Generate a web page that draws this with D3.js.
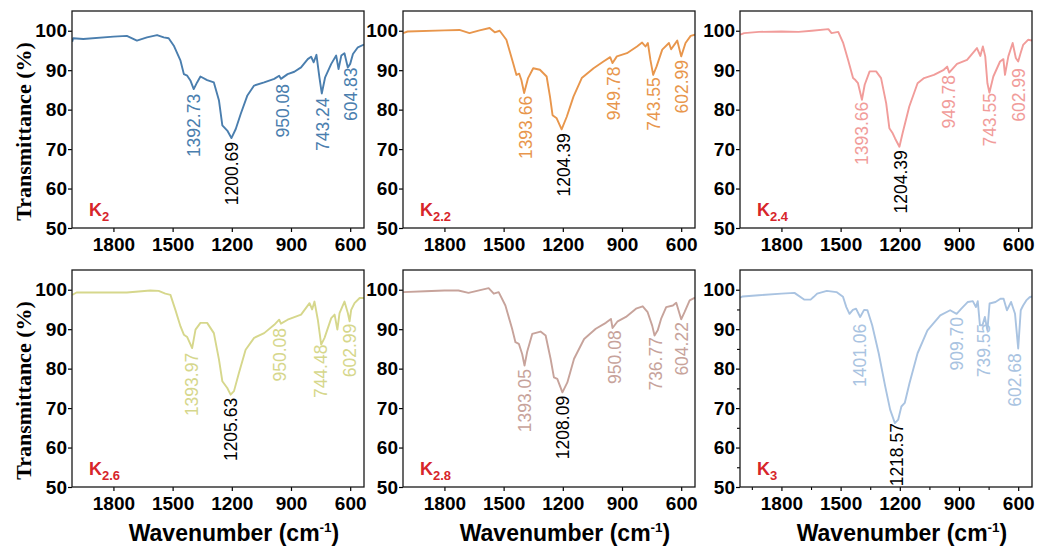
<!DOCTYPE html>
<html>
<head>
<meta charset="utf-8">
<script src="https://cdn.jsdelivr.net/npm/d3@7"></script>
<style>
  html, body { margin: 0; padding: 0; background: #ffffff; }
  svg { display: block; }
</style>
</head>
<body>
<svg id="chart" width="1040" height="549"></svg>
<script>
// ---------------- data ----------------
const wavenumberTicks = [1800, 1500, 1200, 900, 600];
const transmittanceTicks = [50, 60, 70, 80, 90, 100];
const wavenumberMinorTicks = [1950, 1650, 1350, 1050, 750];
const transmittanceMinorTicks = [55, 65, 75, 85, 95];

const sampleNames = ["2", "2.2", "2.4", "2.6", "2.8", "3"];
const sampleColors = ["#4a7eae", "#e8964c", "#f19c9a", "#d6d78c", "#c7a39b", "#a9c3e1"];

// K2
const k2Wave  = [2009,2004,1953,1800,1732,1681,1630,1579,1545,1520,1494,1460,1443,1426,1410,1393,1376,1359,1325,1291,1265,1248,1223,1202,1180,1155,1121,1087,1036,985,960,951,917,883,849,815,798,785,771,756,744,727,696,671,659,645,629,612,600,586,561,530];
const k2Trans = [97.2,98.1,97.9,98.5,98.7,97.5,98.3,98.9,98.3,98.1,96.2,92.4,89.0,88.6,87.4,85.2,86.9,88.4,87.5,86.9,82.3,76.0,74.7,72.8,75.1,78.9,83.6,86.1,86.9,87.8,88.6,87.8,89.0,89.6,90.7,92.8,93.4,92.0,93.9,88.2,84.1,88.2,91.6,93.7,90.3,93.7,94.3,90.7,91.6,94.1,95.8,96.5];
const k2PeakText = ["1392.73", "1200.69", "950.08", "743.24", "604.83"];
const k2PeakWave = [1393, 1202, 943, 739, 595];
const k2PeakTop  = [84.0, 71.8, 86.5, 83.1, 90.7];

// K2.2
const k22Wave  = [2009,1987,1800,1724,1673,1622,1571,1545,1520,1486,1452,1435,1421,1410,1396,1376,1350,1316,1282,1265,1252,1231,1206,1180,1146,1104,1044,994,960,948,926,875,824,798,781,769,756,742,725,696,662,651,620,600,578,552,530];
const k22Trans = [99.4,99.8,100.1,100.2,99.4,100.1,100.7,99.6,100.0,97.7,91.8,88.8,89.1,87.5,84.2,88.0,90.5,90.1,88.4,83.3,78.6,77.8,75.0,78.2,83.3,88.0,90.5,92.2,93.3,91.8,93.5,94.3,96.0,97.0,96.0,96.9,92.6,88.8,90.9,95.2,96.9,95.3,97.5,93.5,96.9,98.7,99.0];
const k22PeakText = ["1393.66", "1204.39", "949.78", "743.55", "602.99"];
const k22PeakWave = [1389, 1197, 943, 739, 595];
const k22PeakTop  = [83.5, 74.0, 90.9, 88.2, 92.6];

// K2.4
const k24Wave  = [2009,1989,1914,1800,1713,1646,1562,1546,1512,1487,1462,1437,1425,1412,1392,1378,1353,1320,1295,1269,1253,1236,1224,1202,1186,1152,1110,1077,1027,977,960,950,910,859,809,792,779,767,756,746,726,692,675,667,650,628,612,600,588,575,550,530];
const k24Trans = [99.0,99.4,99.7,99.8,99.7,100.0,100.4,99.4,99.7,96.9,92.6,88.0,87.5,86.7,82.5,86.3,89.7,89.7,88.0,81.6,75.3,74.0,72.7,70.6,74.0,80.8,86.7,88.0,88.8,90.1,90.9,89.4,91.6,92.6,95.6,93.6,96.0,93.5,86.7,84.3,88.4,92.2,92.8,88.8,93.5,96.9,93.1,92.2,94.3,96.4,97.7,97.5];
const k24PeakText = ["1393.66", "1204.39", "949.78", "743.55", "602.99"];
const k24PeakWave = [1392, 1197, 950, 746, 600];
const k24PeakTop  = [82.0, 69.7, 88.8, 84.2, 90.5];

// K2.6
const k26Wave  = [2009,1987,1800,1732,1613,1571,1537,1511,1486,1460,1443,1426,1401,1384,1359,1325,1291,1265,1248,1223,1206,1189,1164,1130,1087,1036,985,960,951,917,849,806,793,781,764,747,730,696,679,665,654,629,612,603,595,578,552,530];
const k26Trans = [98.7,99.3,99.3,99.3,99.8,99.7,99.0,98.7,94.9,90.7,88.6,88.0,85.2,89.9,91.6,91.6,89.0,82.3,76.8,75.1,73.4,74.3,78.9,84.8,87.8,89.0,91.1,92.4,91.4,92.4,93.7,96.6,95.0,97.0,92.4,86.1,87.8,92.8,93.7,89.9,94.1,97.0,94.1,92.0,94.9,96.6,97.9,97.9];
const k26PeakText = ["1393.97", "1205.63", "950.08", "744.48", "602.99"];
const k26PeakWave = [1401, 1206, 955, 747, 603];
const k26PeakTop  = [84.0, 72.6, 90.3, 86.1, 91.4];

// K2.8
const k28Wave  = [2009,1898,1800,1729,1678,1576,1550,1525,1491,1457,1440,1423,1406,1394,1381,1355,1313,1287,1262,1245,1228,1202,1177,1143,1092,1033,982,956,948,922,880,829,795,770,747,735,719,702,676,642,625,600,583,557,530];
const k28Trans = [99.4,99.6,99.8,99.8,99.2,100.4,99.0,99.4,96.0,90.1,86.7,86.3,83.7,80.8,84.2,88.8,89.4,88.4,82.5,77.8,77.4,74.0,76.5,82.5,87.5,90.1,91.6,92.6,90.3,92.0,93.1,95.2,95.8,94.3,90.9,88.4,89.7,92.6,95.6,96.0,96.7,92.5,94.3,97.3,98.0];
const k28PeakText = ["1393.05", "1208.09", "950.08", "736.77", "604.22"];
const k28PeakWave = [1394, 1199, 939, 730, 600];
const k28PeakTop  = [79.9, 73.1, 89.7, 88.0, 91.8];

// K3
const k3Wave  = [2009,1997,1915,1800,1734,1685,1652,1636,1619,1570,1521,1488,1471,1455,1438,1422,1401,1381,1364,1340,1307,1274,1249,1225,1208,1192,1175,1151,1110,1060,995,945,912,888,855,830,814,805,794,781,769,756,745,715,690,674,657,636,616,600,587,575,559,542,530];
const k3Trans = [98.0,98.3,98.6,99.0,99.2,97.5,97.5,98.2,99.0,99.7,99.4,98.2,95.6,93.9,94.9,95.2,93.1,94.9,94.8,91.0,83.9,75.5,69.6,66.2,67.1,70.4,71.3,76.3,83.9,89.7,93.5,94.8,93.9,95.2,96.9,97.1,95.6,97.1,91.0,91.0,93.1,89.7,96.5,96.9,97.7,97.7,94.8,96.9,93.9,85.1,94.8,96.0,97.3,98.1,98.3];
const k3PeakText = ["1401.06", "1218.57", "909.70", "739.55", "602.68"];
const k3PeakWave = [1405, 1216, 912, 776, 620];
const k3PeakTop  = [91.4, 66.2, 93.1, 91.4, 83.9];

const mainPeakIndex = 1; // second label of each panel printed in black

// ---------------- build ----------------
const panels = [
  { wave: k2Wave,  trans: k2Trans,  text: k2PeakText,  pw: k2PeakWave,  pt: k2PeakTop },
  { wave: k22Wave, trans: k22Trans, text: k22PeakText, pw: k22PeakWave, pt: k22PeakTop },
  { wave: k24Wave, trans: k24Trans, text: k24PeakText, pw: k24PeakWave, pt: k24PeakTop },
  { wave: k26Wave, trans: k26Trans, text: k26PeakText, pw: k26PeakWave, pt: k26PeakTop },
  { wave: k28Wave, trans: k28Trans, text: k28PeakText, pw: k28PeakWave, pt: k28PeakTop },
  { wave: k3Wave,  trans: k3Trans,  text: k3PeakText,  pw: k3PeakWave,  pt: k3PeakTop }
];

const colLeft = [72, 403, 740];
const rowTop = [11, 270];
const pWidth = 292, pHeight = 217;

const svg = d3.select("#chart");
const sans = "'Liberation Sans', Arial, sans-serif";

panels.forEach((p, i) => {
  const col = i % 3, row = Math.floor(i / 3);
  const g = svg.append("g").attr("transform", `translate(${colLeft[col]},${rowTop[row]})`);
  const x = d3.scaleLinear().domain([2010, 530]).range([0, pWidth]);
  const y = d3.scaleLinear().domain([50, 105]).range([pHeight, 0]);
  const color = sampleColors[i];

  const clipId = "clip" + i;
  g.append("clipPath").attr("id", clipId).append("rect")
    .attr("width", pWidth).attr("height", pHeight);

  const pts = p.wave.map((w, k) => [w, p.trans[k]]);
  g.append("path")
    .datum(pts)
    .attr("clip-path", `url(#${clipId})`)
    .attr("fill", "none")
    .attr("stroke", color)
    .attr("stroke-width", 1.9)
    .attr("stroke-linejoin", "round")
    .attr("d", d3.line().x(d => x(d[0])).y(d => y(d[1])));

  const xAxis = g.append("g").attr("transform", `translate(0,${pHeight})`)
    .call(d3.axisBottom(x).tickValues(wavenumberTicks).tickSize(4).tickPadding(6).tickFormat(d3.format("d")));
  const yAxis = g.append("g")
    .call(d3.axisLeft(y).tickValues(transmittanceTicks).tickSize(4).tickPadding(1).tickFormat(d3.format("d")));
  [xAxis, yAxis].forEach(a => {
    a.select(".domain").remove();
    a.selectAll(".tick line").attr("stroke", "#000").attr("stroke-width", 1.2);
    a.selectAll(".tick text")
      .attr("fill", "#000")
      .style("font-family", sans)
      .style("font-weight", "bold")
      .style("font-size", "19px");
  });

  if (i === 5) {
    const xm = g.append("g").attr("transform", `translate(0,${pHeight})`)
      .call(d3.axisBottom(x).tickValues(wavenumberMinorTicks).tickSize(3).tickFormat(""));
    const ym = g.append("g")
      .call(d3.axisLeft(y).tickValues(transmittanceMinorTicks).tickSize(3).tickFormat(""));
    [xm, ym].forEach(a => {
      a.select(".domain").remove();
      a.selectAll(".tick line").attr("stroke", "#000").attr("stroke-width", 1.1);
    });
  }

  g.append("rect")
    .attr("width", pWidth).attr("height", pHeight)
    .attr("fill", "none").attr("stroke", "#1a1a1a").attr("stroke-width", 1.3);

  g.selectAll("text.peak")
    .data(p.text)
    .join("text")
    .attr("class", "peak")
    .attr("transform", (d, k) => `translate(${x(p.pw[k])},${y(p.pt[k])}) rotate(-90)`)
    .attr("text-anchor", "end")
    .attr("dy", "0.36em")
    .attr("fill", (d, k) => k === mainPeakIndex ? "#000" : color)
    .style("font-family", sans)
    .style("font-size", "17.5px")
    .text(d => d);

  const nm = g.append("text")
    .attr("x", 17).attr("y", pHeight - 12)
    .attr("fill", "#d7252a")
    .style("font-family", sans)
    .style("font-weight", "bold")
    .style("font-size", "18px");
  nm.append("tspan").text("K");
  nm.append("tspan").attr("dy", 5).style("font-size", "13px").text(sampleNames[i]);

  if (col === 0) {
    svg.append("text")
      .attr("transform", `translate(${colLeft[0] - 49},${rowTop[row] + pHeight / 2 + 12}) rotate(-90)`)
      .attr("text-anchor", "middle")
      .attr("dy", "0.35em")
      .attr("fill", "#000")
      .style("font-family", "'Liberation Serif', 'Times New Roman', serif")
      .style("font-weight", "bold")
      .style("font-size", "22px")
      .text("Transmittance (%)");
  }
  if (row === 1) {
    const t = svg.append("text")
      .attr("x", colLeft[col] + pWidth / 2 + 16)
      .attr("y", 541)
      .attr("text-anchor", "middle")
      .attr("fill", "#000")
      .style("font-family", sans)
      .style("font-weight", "bold")
      .style("font-size", "23px");
    t.append("tspan").text("Wavenumber (cm");
    t.append("tspan").attr("dy", -9).style("font-size", "13.5px").text("-1");
    t.append("tspan").attr("dy", 9).text(")");
  }
});
</script>
</body>
</html>
